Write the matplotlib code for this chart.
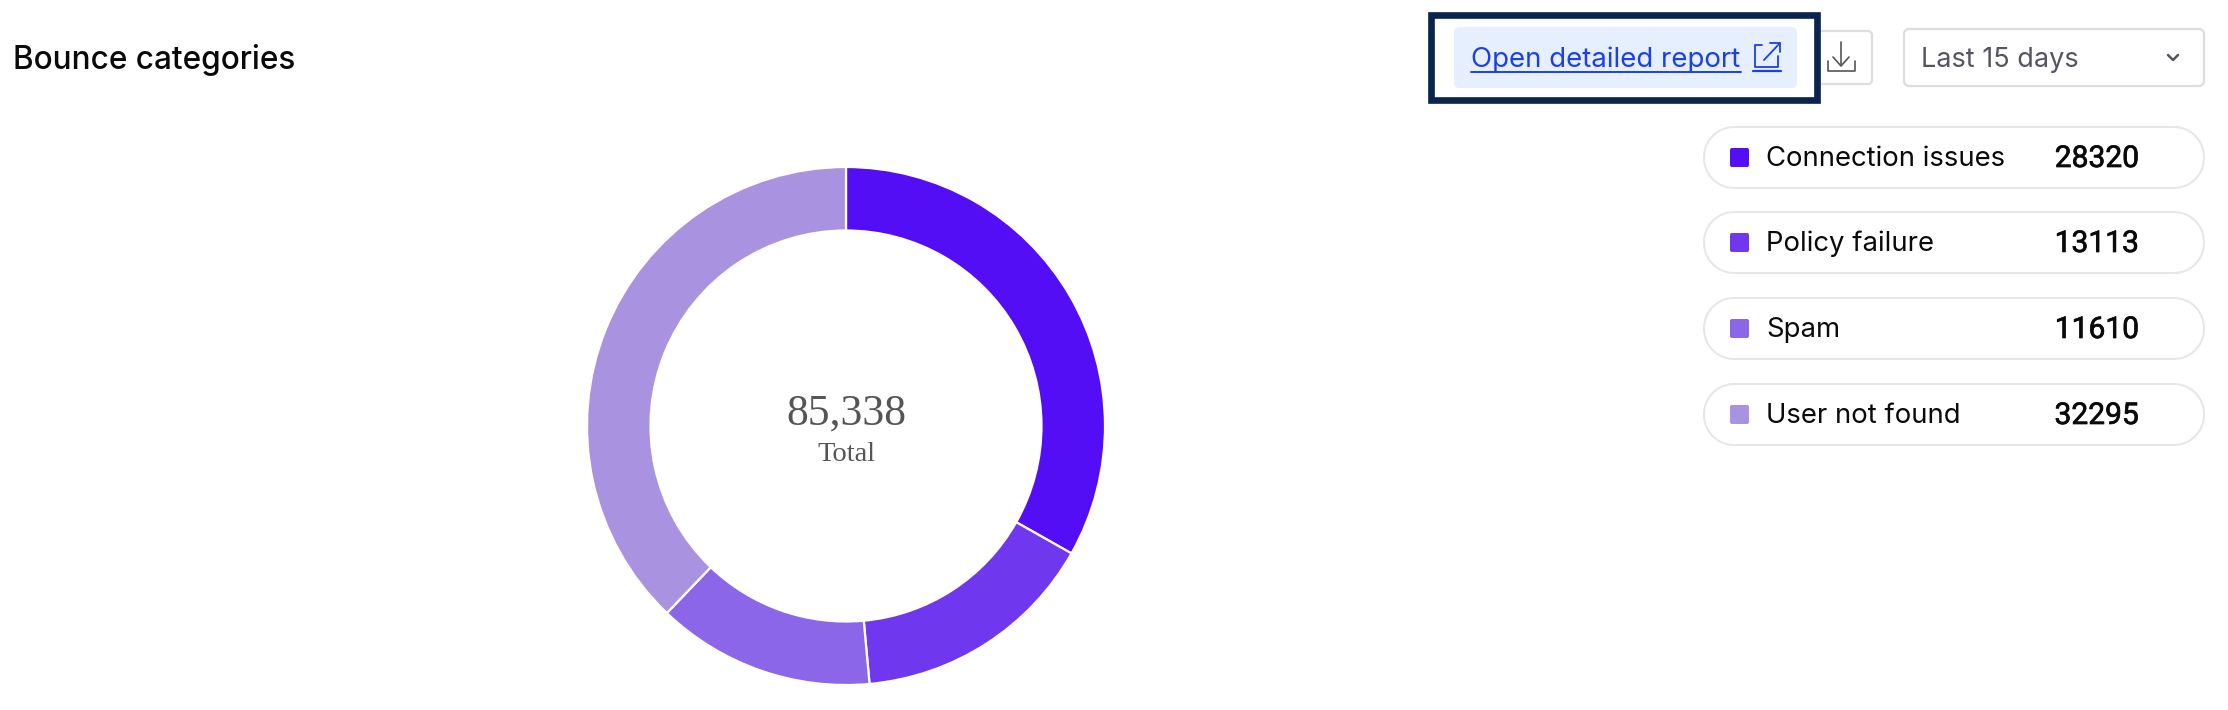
import numpy as np
import matplotlib
matplotlib.use('Agg')
import matplotlib.pyplot as plt
import matplotlib.patheffects as pe
from matplotlib.patches import Polygon, Rectangle

W, H = 2228, 710

categories = ['Connection issues', 'Policy failure', 'Spam', 'User not found']
values = [28320, 13113, 11610, 32295]
colors = ['#540EF5', '#7038EE', '#8C66E8', '#A992DF']
total_label = '85,338'

plt.rcParams['font.family'] = ['Inter', 'DejaVu Sans']

fig = plt.figure(figsize=(W / 100, H / 100), dpi=100, facecolor='white')

# whole figure as a pixel canvas for the page furniture
ax = fig.add_axes([0, 0, 1, 1])
ax.set_xlim(0, W)
ax.set_ylim(H, 0)
ax.axis('off')


def box(x0, y0, x1, y1, r, fc='white', ec='none', lw=1.0, z=1):
    # rounded rect with true circular corners
    pts = []
    corners = [(x1 - r, y0 + r, -90), (x1 - r, y1 - r, 0), (x0 + r, y1 - r, 90), (x0 + r, y0 + r, 180)]
    for cx_, cy_, a in corners:
        t = np.radians(np.linspace(a, a + 90, 16))
        pts.extend(zip(cx_ + r * np.cos(t), cy_ + r * np.sin(t)))
    ax.add_patch(Polygon(pts, closed=True, fc=fc, ec=ec, lw=lw, zorder=z))


def line(xs, ys, c, lw=1.5, z=6):
    ax.plot(xs, ys, color=c, lw=lw, solid_capstyle='round', zorder=z)


ax.text(13, 60, 'Bounce categories', fontsize=22.7, color='#0A0A0A',
        va='center', ha='left', fontweight='medium')

# download button and select
box(1800, 31, 1872, 84, 4, ec='#DDDDDD', lw=1.6, z=1)
line([1841, 1841], [42, 65], '#555555', 1.2)
line([1833, 1841, 1849], [57, 66, 57], '#555555', 1.2)
line([1828, 1828, 1855, 1855], [61, 71, 71, 61], '#555555', 1.2)

box(1904, 29, 2204, 86, 5, ec='#DDDDDD', lw=1.6)
ax.text(1921, 60, 'Last 15 days', fontsize=19.5, color='#555560', va='center')
line([2168, 2173, 2178], [55, 60, 55], '#555560', 1.8)

# highlighted report link
ax.add_patch(Rectangle((1431, 15), 386, 85, fc='white', ec='#0A2450', lw=4.8, zorder=2))
box(1454, 27, 1797, 88, 5, fc='#E5EFFE', z=3)
ax.text(1471, 60, 'Open detailed report', fontsize=19.9, color='#1D3FE8', va='center', zorder=6)
line([1471, 1741], [72, 72], '#1D3FE8', 1.4)
line([1762, 1755, 1755, 1778, 1778], [45, 45, 67, 67, 56], '#1D3FE8', 1.3)
line([1764, 1780], [60, 43], '#1D3FE8', 1.3)
line([1770, 1780, 1780], [43, 43, 52], '#1D3FE8', 1.3)
line([1753, 1781], [71, 71], '#1D3FE8', 1.6)

# legend pills
pill_y = [127, 212, 298, 384]
for name, val, col, y in zip(categories, values, colors, pill_y):
    box(1704, y, 2204, y + 61, 30, ec='#E6E6E6', lw=1.4)
    box(1730, y + 21, 1749, y + 40, 2, fc=col)
    ax.text(1766, y + 32, name, fontsize=19.8, color='#0A0A0A', va='center', ha='left')
    # Roboto has tabular digits, Inter's 1 is too narrow here
    t = ax.text(2139, y + 32, str(val), fontsize=21.6, family='Roboto', color='#0A0A0A',
                va='center', ha='right')
    t.set_path_effects([pe.withStroke(linewidth=0.5, foreground='#0A0A0A')])

# donut
cx, cy, r_out, r_in = 846, 426, 259, 195.5
ax2 = fig.add_axes([(cx - r_out) / W, 1 - (cy + r_out) / H, 2 * r_out / W, 2 * r_out / H])
ax2.pie(values, colors=colors, startangle=90, counterclock=False, radius=1,
        wedgeprops=dict(width=1 - r_in / r_out, edgecolor='white', linewidth=1.6))
ax2.set_xlim(-1, 1)
ax2.set_ylim(-1, 1)
ax2.patch.set_alpha(0)

ax2.text(0, 0.05, total_label, fontsize=31.5, family='Liberation Serif', color='#555555',
         ha='center', va='center')
ax2.text(0, -0.111, 'Total', fontsize=20.5, family='Liberation Serif', color='#555555',
         ha='center', va='center')

fig.savefig('out.png', dpi=100)
